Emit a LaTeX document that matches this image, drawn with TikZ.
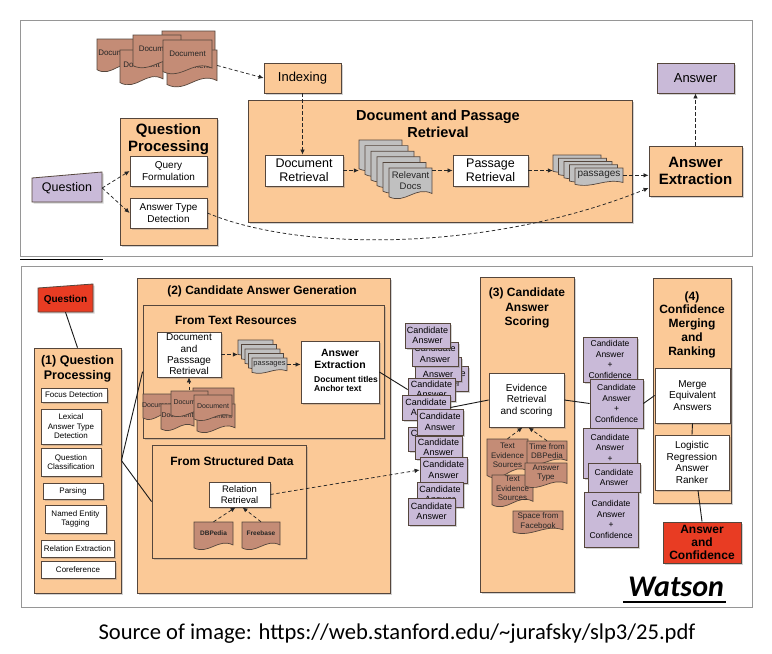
\documentclass[tikz,border=0pt]{standalone}
\usepackage{fontspec}
\setmainfont{Liberation Sans}
\newfontfamily\carl{Carlito}
\usetikzlibrary{arrows.meta,shadows,calc}
\definecolor{peach}{RGB}{251,201,151}
\definecolor{bd}{RGB}{85,70,60}
\definecolor{purp}{RGB}{201,186,216}
\definecolor{brownc}{RGB}{196,140,118}
\definecolor{grayc}{RGB}{192,192,192}
\definecolor{redc}{RGB}{232,60,35}
\definecolor{panelc}{RGB}{150,150,150}
\newcommand{\fs}[2]{\fontsize{#1}{#2}\selectfont}
% box: name, style, x1, y1, x2, y2, text
\newcommand{\bx}[7]{%
  \pgfmathsetmacro\bxw{#5-#3}\pgfmathsetmacro\bxh{#6-#4}%
  \pgfmathsetmacro\bxcx{(#3+#5)/2}\pgfmathsetmacro\bxcy{(#4+#6)/2}%
  \node[#2,minimum width=\bxw pt,minimum height=\bxh pt] (#1) at (\bxcx,\bxcy) {#7};}
% document: name, path style, x1, y1, x2, y2, node options, text
\newcommand{\doc}[8]{%
  \pgfmathsetmacro\dcw{#5-#3}\pgfmathsetmacro\dch{#6-#4}%
  \pgfmathsetmacro\dcR{#6-0.15*\dch}\pgfmathsetmacro\dcL{#6-0.04*\dch}%
  \pgfmathsetmacro\dcAx{#3+0.62*\dcw}\pgfmathsetmacro\dcAy{#6-0.42*\dch}%
  \pgfmathsetmacro\dcBx{#3+0.38*\dcw}\pgfmathsetmacro\dcBy{#6+0.22*\dch}%
  \path[#2] (#3,#4) -- (#5,#4) -- (#5,\dcR) .. controls (\dcAx,\dcAy) and (\dcBx,\dcBy) .. (#3,\dcL) -- cycle;
  \pgfmathsetmacro\dccx{(#3+#5)/2}\pgfmathsetmacro\dccy{#4+0.43*\dch}\pgfmathsetmacro\dcnh{0.86*\dch}%
  \node[inner sep=0pt,minimum width=\dcw pt,minimum height=\dcnh pt,align=center,text=black!85,#7] (#1) at (\dccx,\dccy) {#8};}
\begin{document}
\begin{tikzpicture}[x=1pt,y=-1pt,
  pbox/.style={draw=bd,fill=peach,line width=0.8pt,inner sep=0pt,align=center,drop shadow={shadow xshift=1.5pt,shadow yshift=-1.5pt,opacity=0.35}},
  wbox/.style={pbox,fill=white},
  ubox/.style={pbox,fill=purp},
  rbox/.style={pbox,fill=redc},
  bdoc/.style={draw=bd,fill=brownc,line width=0.7pt},
  gdoc/.style={draw=bd,fill=grayc,line width=0.7pt},
  dar/.style={draw=black!85,line width=0.75pt,dash pattern=on 3.5pt off 2.5pt,-{Latex[length=5pt,width=4.5pt]}},
  cline/.style={draw=black!90,line width=0.9pt},
  ttl/.style={inner sep=0pt,align=center},
  panelst/.style={draw=panelc,line width=1pt}]
\fill[white] (0,0) rectangle (772,654);
\useasboundingbox (0,0) rectangle (772,654);
%================ TOP PANEL ================
\draw[panelst] (20,20) rectangle (752,256);
\draw[black,line width=0.8pt] (20,259) -- (103,259);
% documents
\doc{da4}{bdoc}{162}{31}{215}{62}{font=\fs{8}{9}}{Document}
\doc{da1}{bdoc}{97}{39}{136}{71}{font=\fs{8}{9}}{Document}
\doc{da2}{bdoc}{120}{50}{163}{84}{font=\fs{8}{9}}{Document}
\doc{da3}{bdoc}{133}{35}{181}{67}{font=\fs{8}{9}}{Document}
\doc{da5}{bdoc}{167}{50}{217}{86}{font=\fs{8}{9}}{Document}
\doc{da6}{bdoc}{163}{40}{212}{73}{font=\fs{8}{9}}{Document}
\bx{idx}{pbox,font=\fs{13}{15}}{264}{63}{341}{93}{Indexing}
\draw[dar] (da5.east) -- (idx.west);
% question processing
\bx{qp}{pbox}{120}{118}{217}{245}{}
\node[ttl,font=\bfseries\fs{15}{17}] (qpt) at (168.5,139) {Question\\Processing};
\bx{qf}{wbox,font=\fs{10}{12}}{130}{156}{207}{186}{Query\\Formulation}
\bx{atd}{wbox,font=\fs{10}{12}}{130}{198}{207}{228}{Answer Type\\Detection}
\path[ubox] (32,178) -- (102,172) -- (102,202) -- (32,202) -- cycle;
\node[inner sep=0pt,minimum width=70pt,minimum height=28pt,font=\fs{12.5}{14}] (q) at (67,188) {Question};
\draw[dar] (q.east) -- (qf.west);
\draw[dar] (q.east) -- (atd.west);
% document and passage retrieval
\bx{dpr}{pbox}{248}{100}{632}{222}{}
\node[ttl,font=\bfseries\fs{14.5}{17}] (dprt) at (438,123.5) {Document and Passage\\Retrieval};
\bx{dr}{wbox,font=\fs{12.5}{14.5}}{265}{155}{343}{186}{Document\\Retrieval}
\draw[dar] (idx.south) -- (idx.south |- dr.north);
\foreach \i in {0,...,4}{
  \pgfmathsetmacro\xa{359+6*\i}\pgfmathsetmacro\ya{140+5.6*\i}
  \pgfmathsetmacro\xb{\xa+43}\pgfmathsetmacro\yb{\ya+30}
  \doc{rd\i}{gdoc}{\xa}{\ya}{\xb}{\yb}{}{}
}
\doc{rd5}{gdoc}{389}{168}{432}{198}{font=\fs{9.5}{11}}{Relevant\\Docs}
\draw[dar] (dr.east) -- (dr.east -| rd0.west);
\bx{pr}{wbox,font=\fs{12.5}{14.5}}{453}{155}{528}{186}{Passage\\Retrieval}
\draw[dar] (pr.west -| rd5.east) -- (pr.west);
\foreach \i in {0,...,3}{
  \pgfmathsetmacro\xa{553+5.5*\i}\pgfmathsetmacro\ya{155+3.25*\i}
  \pgfmathsetmacro\xb{\xa+48}\pgfmathsetmacro\yb{\ya+17}
  \doc{ps\i}{gdoc}{\xa}{\ya}{\xb}{\yb}{}{}
}
\doc{ps4}{gdoc}{575}{168}{623}{185}{font=\fs{10}{11}}{passages}
\draw[dar] (pr.east) -- (pr.east -| ps0.west);
% answer extraction
\bx{ae}{pbox,font=\bfseries\fs{15}{17}}{649}{146}{742}{196}{Answer\\Extraction}
\bx{ans}{ubox,font=\fs{13}{15}}{657}{63}{734}{93}{Answer}
\draw[dar] (ps4.east) -- (ps4.east -| ae.west);
\draw[dar] (ae.north) -- (ans.south);
\draw[dar] (atd.east) .. controls (300,252) and (490,252) .. ($(ae.west)+(0,17)$);
%================ BOTTOM PANEL ================
\draw[panelst] (21,266) rectangle (752,607);
% question
\path[rbox] (38,288) -- (93,284) -- (93,312) -- (38,312) -- cycle;
\node[inner sep=0pt,minimum width=55pt,minimum height=24pt,font=\bfseries\fs{10}{12}] (qb) at (65.5,300) {Question};
% (1) question processing
\bx{qp1}{pbox}{34}{348}{121}{593}{}
\node[ttl,font=\bfseries\fs{12.5}{14.5}] (qp1t) at (77.5,369) {(1) Question\\Processing};
\draw[cline] (qb.south) -- (qp1.north);
\bx{fd}{wbox,font=\fs{8}{9.5}}{41}{388}{107}{402}{Focus Detection}
\bx{lat}{wbox,font=\fs{8}{9.5}}{41}{409}{101}{444}{Lexical\\Answer Type\\Detection}
\bx{qc}{wbox,font=\fs{8}{9.5}}{41}{448}{101}{476}{Question\\Classification}
\bx{prs}{wbox,font=\fs{8}{9.5}}{43}{483}{103}{499}{Parsing}
\bx{ner}{wbox,font=\fs{8}{9.5}}{45}{505}{106}{533}{Named Entity\\Tagging}
\bx{rex}{wbox,font=\fs{8}{9.5}}{41}{540}{114}{557}{Relation Extraction}
\bx{cor}{wbox,font=\fs{8}{9.5}}{41}{561}{115}{578}{Coreference}
% (2) candidate answer generation
\bx{cag}{pbox}{137}{278}{390}{593}{}
\node[ttl,font=\bfseries\fs{12}{14}] (cagt) at (262,291) {(2) Candidate Answer Generation};
\bx{ftr}{pbox}{143}{305}{384}{438}{}
\node[ttl,font=\bfseries\fs{12}{14}] (ftrt) at (236,320) {From Text Resources};
\bx{dpr2}{wbox,font=\fs{10}{11.3}}{157}{332}{221}{377}{Document\\and\\Passsage\\Retrieval}
\coordinate (bdtop) at (189,396);
\draw[dar] (dpr2.south |- bdtop) -- (dpr2.south);
\doc{db4}{bdoc}{193}{388}{234}{412}{font=\fs{7}{8}}{Document}
\doc{db1}{bdoc}{143}{394}{173}{419}{font=\fs{7}{8}}{Document}
\doc{db2}{bdoc}{161}{404}{194}{430}{font=\fs{7}{8}}{Document}
\doc{db3}{bdoc}{171}{391}{208}{416}{font=\fs{7}{8}}{Document}
\doc{db5}{bdoc}{197}{404}{235}{432}{font=\fs{7}{8}}{Document}
\doc{db6}{bdoc}{194}{395}{232}{420}{font=\fs{7}{8}}{Document}
\foreach \i in {0,...,3}{
  \pgfmathsetmacro\xa{238+3.5*\i}\pgfmathsetmacro\ya{340+4.5*\i}
  \pgfmathsetmacro\xb{\xa+35}\pgfmathsetmacro\yb{\ya+15}
  \doc{pp\i}{gdoc}{\xa}{\ya}{\xb}{\yb}{}{}
}
\doc{pp4}{gdoc}{252}{358}{287}{373}{font=\fs{7.5}{8.5}}{passages}
\draw[dar] (dpr2.east) -- (dpr2.east -| pp0.west);
\bx{ae2}{wbox}{301}{341}{379}{403}{}
\node[ttl,font=\bfseries\fs{10.5}{12}] (ae2t) at (340,359) {Answer\\Extraction};
\node[inner sep=0pt,align=left,anchor=west,font=\bfseries\fs{8.5}{9.7}] (ae2s) at (314,384) {Document titles\\Anchor text};
\draw[dar] (pp4.east) -- (pp4.east -| ae2.west);
\bx{fsd}{pbox}{152}{445}{306}{558}{}
\node[ttl,font=\bfseries\fs{12}{14}] (fsdt) at (232,461) {From Structured Data};
\bx{rr}{wbox,font=\fs{9.5}{11}}{209}{482}{270}{507}{Relation\\Retrieval}
\doc{dbp}{bdoc}{194}{522}{233}{549}{font=\bfseries\fs{6.5}{8}}{DBPedia}
\doc{fbs}{bdoc}{242}{522}{280}{549}{font=\bfseries\fs{6.5}{8}}{Freebase}
\draw[dar] (dbp.north) -- ($(rr.south)+(-4,0)$);
\draw[dar] (fbs.north) -- ($(rr.south)+(3,0)$);
\draw[cline] ($(qp1.east)+(0,-10)$) -- ($(ftr.north west)+(0,67)$);
\draw[cline] ($(qp1.east)+(0,-10)$) -- ($(fsd.north west)+(0,57)$);
% candidate answers
\bx{c4}{ubox,font=\fs{9}{10.5}}{422}{366}{468}{391}{Candidate\\Answer}
\bx{c3}{ubox,font=\fs{9}{10.5}}{415}{357}{461}{381}{Candidate\\Answer}
\bx{c2}{ubox,font=\fs{9}{10.5}}{412}{342}{458}{366}{Candidate\\Answer}
\bx{c1}{ubox,font=\fs{9}{10.5}}{405}{323}{450}{348}{Candidate\\Answer}
\bx{c5}{ubox,font=\fs{9}{10.5}}{408}{378}{455}{401}{Candidate\\Answer}
\bx{c6}{ubox,font=\fs{9}{10.5}}{402}{395}{450}{420}{Candidate\\Answer}
\bx{c8}{ubox,font=\fs{9}{10.5}}{408}{427}{455}{451}{Candidate\\Answer}
\bx{c7}{ubox,font=\fs{9}{10.5}}{417}{409}{463}{435}{Candidate\\Answer}
\bx{c9}{ubox,font=\fs{9}{10.5}}{415}{436}{462}{459}{Candidate\\Answer}
\bx{c10}{ubox,font=\fs{9}{10.5}}{420}{457}{467}{483}{Candidate\\Answer}
\bx{c11}{ubox,font=\fs{9}{10.5}}{417}{482}{463}{507}{Candidate\\Answer}
\bx{c12}{ubox,font=\fs{9}{10.5}}{408}{498}{455}{525}{Candidate\\Answer}
\draw[dar] (rr.east) -- (c10.west);
\draw[cline] (ae2.east) -- (c5.west);
% (3) candidate answer scoring
\bx{cas}{pbox}{480}{277}{574}{592}{}
\node[ttl,font=\bfseries\fs{12}{14.5}] (cast) at (527,308) {(3) Candidate\\Answer\\Scoring};
\bx{ers}{wbox,font=\fs{10}{11.5}}{489}{373}{564}{427}{Evidence\\Retrieval\\and scoring}
\draw[cline] (c6.east) -- (ers.west);
\doc{te1}{bdoc}{487}{439}{528}{477}{font=\fs{8}{9.5}}{Text\\Evidence\\Sources}
\doc{te2}{bdoc}{492}{475}{533}{506}{font=\fs{8}{9.5}}{Text\\Evidence\\Sources}
\doc{tdb}{bdoc}{527}{441}{567}{464}{font=\fs{8}{9.5}}{Time from\\DBPedia}
\doc{aty}{bdoc}{525}{463}{567}{487}{font=\fs{8}{9.5}}{Answer\\Type}
\doc{sfb}{bdoc}{513}{511}{563}{533}{font=\fs{8}{9.5}}{Space from\\Facebook}
\draw[dar] (te1.north) -- ($(ers.south)+(-4,0)$);
\draw[dar] (tdb.north) -- ($(ers.south)+(2,0)$);
% candidate answer + confidence
\bx{k1}{ubox,font=\fs{8.5}{10.5}}{583}{337}{637}{382}{Candidate\\Answer\\+\\Confidence}
\bx{k2}{ubox,font=\fs{8.5}{10.5}}{590}{379}{643}{428}{Candidate\\Answer\\+\\Confidence}
\bx{k3}{ubox,font=\fs{8.5}{10.5}}{583}{428}{637}{478}{Candidate\\Answer\\+\\Confidence}
\bx{k4}{ubox,font=\fs{8.5}{10.5}}{588}{463}{640}{492}{Candidate\\Answer}
\bx{k5}{ubox,font=\fs{8.5}{10.5}}{584}{492}{638}{547}{Candidate\\Answer\\+\\Confidence}
\draw[cline] (ers.east) -- (k2.west);
% (4) confidence merging and ranking
\bx{cmr}{pbox}{653}{278}{731}{503}{}
\node[ttl,font=\bfseries\fs{12}{13.75}] (cmrt) at (692,324.5) {(4)\\Confidence\\Merging\\and\\Ranking};
\bx{mea}{wbox,font=\fs{10}{11.5}}{655}{368}{730}{423}{Merge\\Equivalent\\Answers}
\bx{lra}{wbox,font=\fs{10}{11.5}}{655}{435}{729}{490}{Logistic\\Regression\\Answer\\Ranker}
\draw[cline] (k2.east) -- (mea.west);
\draw[cline] (mea.south) -- (lra.north);
\bx{ac}{rbox,font=\bfseries\fs{12}{13.3}}{663}{522}{741}{563}{Answer\\and\\Confidence}
\draw[cline] ($(lra.south)+(6,0)$) -- (ac.north);
% Watson
\node[inner sep=0pt,anchor=base,font=\carl\bfseries\itshape\fs{30}{32}] (wat) at (676,596) {Watson};
\draw[line width=1.3pt] ($(wat.base west)+(-5,6)$) -- ($(wat.base east)+(2,6)$);
% source
\node[inner sep=0pt,font=\carl\fs{22.6}{26}] (src) at (397,634) {Source of image: https://web.stanford.edu/\textasciitilde jurafsky/slp3/25.pdf};
\end{tikzpicture}
\end{document}
